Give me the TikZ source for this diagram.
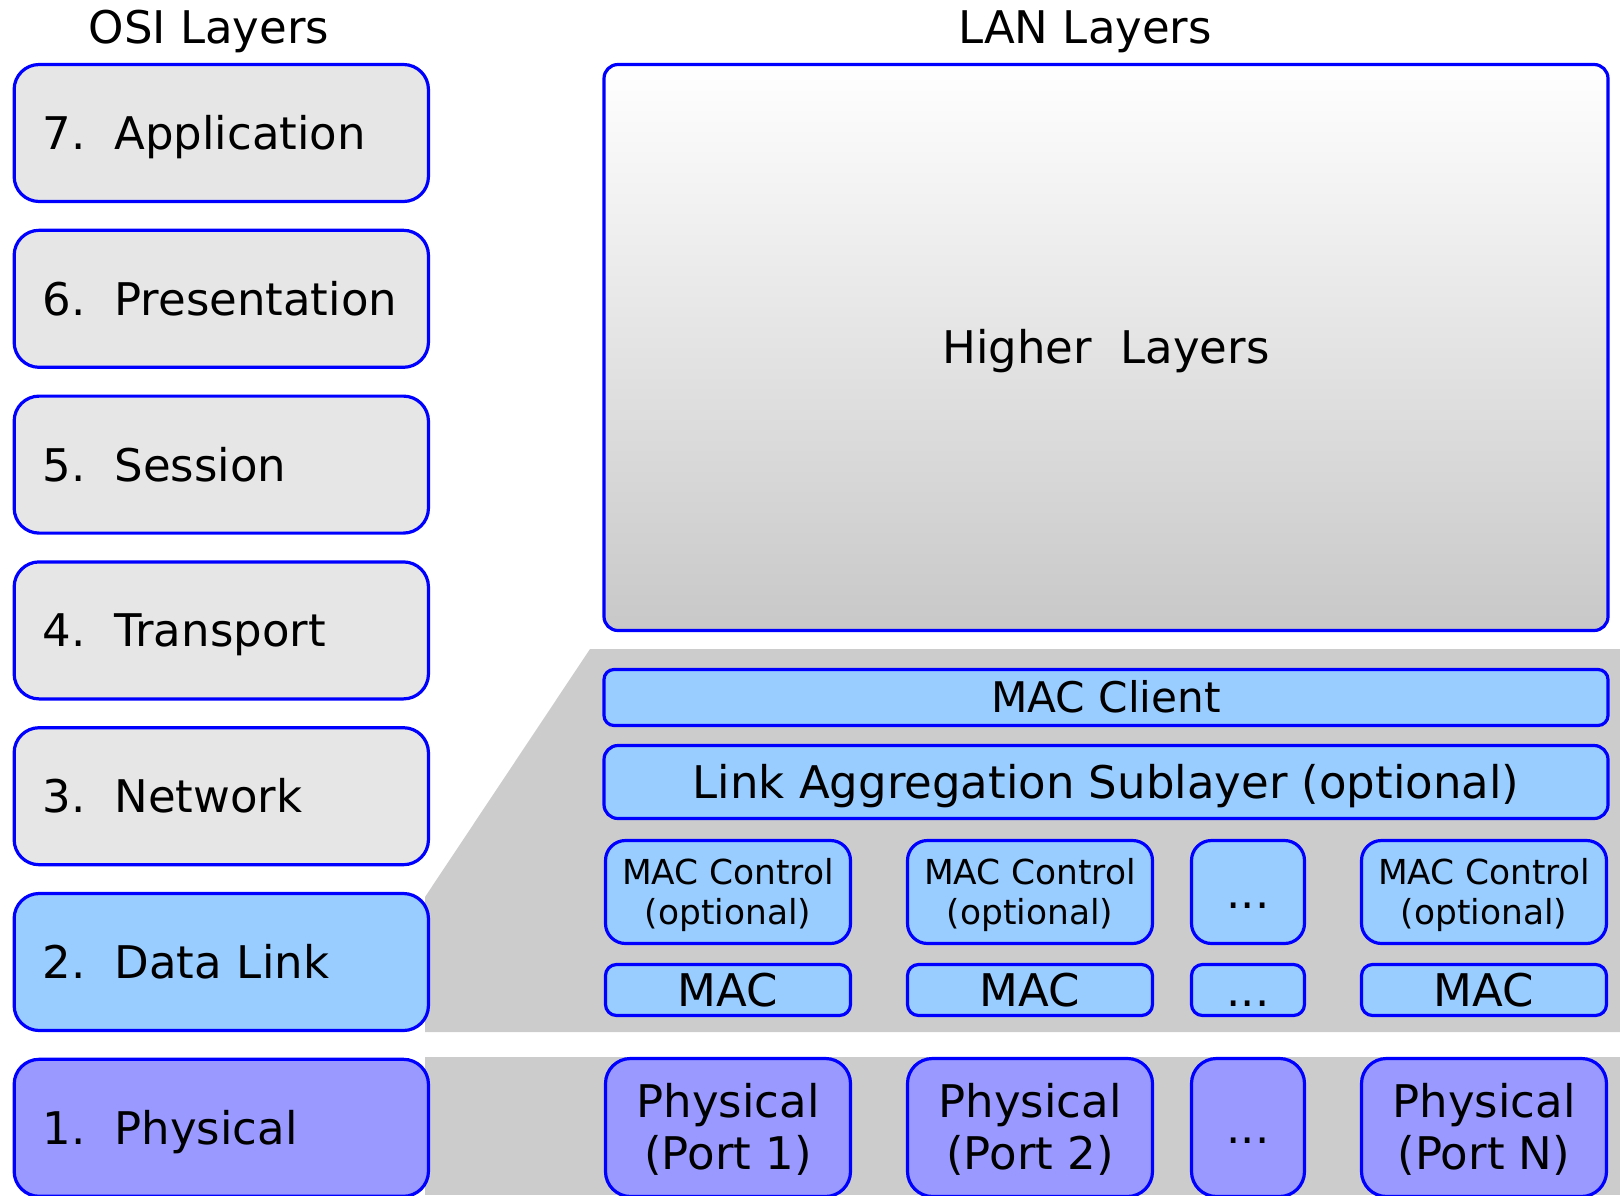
\documentclass[tikz,border=0pt]{standalone}
\usepackage{fontspec}
\setmainfont{DejaVu Sans}
\definecolor{edge}{HTML}{0000FF}
\definecolor{osigray}{HTML}{E6E6E6}
\definecolor{dlblue}{HTML}{99CCFF}
\definecolor{phyviolet}{HTML}{9999FF}
\definecolor{band}{HTML}{CCCCCC}
\definecolor{hlbottom}{HTML}{C8C8C8}
\begin{document}
\begin{tikzpicture}[x=1pt,y=-1pt,
  box/.style={draw=edge, line width=3.2pt, inner sep=0pt, outer sep=0pt, align=center,
    font=\fontsize{45}{52}\selectfont, text height=32.8pt, text depth=0pt},
  osibox/.style={box, rounded corners=25pt, minimum width=414.3pt, minimum height=137pt,
    text width=356.7pt, align=left},
  title/.style={anchor=base, inner sep=0pt, font=\fontsize{45}{52}\selectfont},
  wide/.style={box, fill=dlblue, minimum width=1004pt},
  ctrl/.style={box, fill=dlblue, rounded corners=20pt, minimum width=245pt, minimum height=103pt,
    font=\fontsize{34.4}{39.5}\selectfont, text height=64.6pt, text depth=0pt},
  dots/.style={box, fill=dlblue, minimum width=113pt},
  mac/.style={box, fill=dlblue, rounded corners=11pt, minimum width=245pt, minimum height=51pt},
  phy/.style={box, fill=phyviolet, rounded corners=25pt, minimum width=245pt, minimum height=138pt,
    text height=84.8pt, text depth=0pt},
]
\useasboundingbox (0,0) rectangle (1620,1195);

% grey backdrop fanning out from the data link layer, and the physical band
\fill[band] (425,897) -- (590,649) -- (1620,649) -- (1620,1032) -- (425,1032) -- cycle;
\fill[band] (425,1057) rectangle (1620,1195);

% column headings
\node[title] (osititle) at (209,43) {OSI Layers};
\node[title] (lantitle) at (1085,43) {LAN Layers};

% OSI reference model stack
\node[osibox, fill=osigray] (l7) at (221.3,133.0)  {7.\hspace{0.636em}Application};
\node[osibox, fill=osigray] (l6) at (221.3,298.8)  {6.\hspace{0.636em}Presentation};
\node[osibox, fill=osigray] (l5) at (221.3,464.6)  {5.\hspace{0.636em}Session};
\node[osibox, fill=osigray] (l4) at (221.3,630.4)  {4.\hspace{0.636em}Transport};
\node[osibox, fill=osigray] (l3) at (221.3,796.2)  {3.\hspace{0.636em}Network};
\node[osibox, fill=dlblue]  (l2) at (221.3,962.0)  {2.\hspace{0.636em}Data Link};
\node[osibox, fill=phyviolet] (l1) at (221.3,1127.8) {1.\hspace{0.636em}Physical};

% LAN stack
\node[box, rounded corners=14pt, minimum width=1004pt, minimum height=566pt,
  top color=white, bottom color=hlbottom] (higher) at (1106,347.5) {Higher\hspace{0.636em}Layers};
\node[wide, rounded corners=10pt, minimum height=56pt, font=\fontsize{42.2}{48}\selectfont,
  text height=30.8pt] (client) at (1106,697.5) {MAC Client};
\node[wide, rounded corners=14pt, minimum height=73pt] (lag) at (1106,782) {Link Aggregation Sublayer (optional)};

\node[ctrl] (ctrl1) at (728,892)  {MAC Control\\(optional)};
\node[ctrl] (ctrl2) at (1030,892) {MAC Control\\(optional)};
\node[dots, rounded corners=20pt, minimum height=103pt] (ctrlx) at (1248,892) {...};
\node[ctrl] (ctrln) at (1484,892) {MAC Control\\(optional)};

\node[mac] (mac1) at (728,990)  {MAC};
\node[mac] (mac2) at (1030,990) {MAC};
\node[dots, rounded corners=11pt, minimum height=51pt] (macx) at (1248,990) {...};
\node[mac] (macn) at (1484,990) {MAC};

\node[phy] (phy1) at (728,1127.5)  {Physical\\(Port 1)};
\node[phy] (phy2) at (1030,1127.5) {Physical\\(Port 2)};
\node[box, fill=phyviolet, rounded corners=25pt, minimum width=113pt, minimum height=138pt] (phyx) at (1248,1127.5) {...};
\node[phy] (phyn) at (1484,1127.5) {Physical\\(Port N)};
\end{tikzpicture}
\end{document}
